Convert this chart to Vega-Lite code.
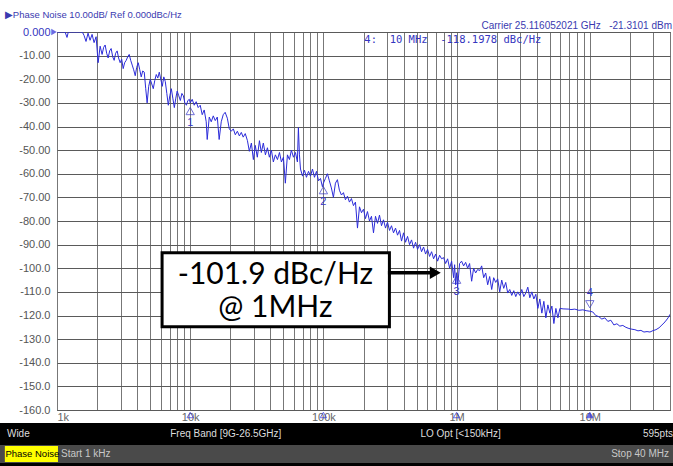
{
  "$schema": "https://vega.github.io/schema/vega-lite/v6.json",
  "width": 613,
  "height": 378,
  "autosize": "none",
  "padding": {"left": 57, "top": 32, "right": 3, "bottom": 56},
  "background": "white",
  "config": {"view": {"stroke": "#333333", "strokeWidth": 1}, "font": "Liberation Sans"},
  "data": {"values": [{}]},
  "datasets": {
    "trace": [
      {"freq":1000,"level":0},{"freq":1053,"level":0},{"freq":1109,"level":0},{"freq":1150,"level":0},{"freq":1189,"level":-2.3},{"freq":1215,"level":0},{"freq":1297,"level":0},{"freq":1366,"level":0},{"freq":1439,"level":0},{"freq":1516,"level":0},{"freq":1560,"level":-0.3},{"freq":1597,"level":-1.5},{"freq":1651,"level":-4},{"freq":1710,"level":-0.5},{"freq":1771,"level":-3.5},{"freq":1834,"level":-1},{"freq":1898,"level":-4.5},{"freq":1966,"level":-2},{"freq":2036,"level":-13},{"freq":2108,"level":-6},{"freq":2181,"level":-9.5},{"freq":2240,"level":-6.5},{"freq":2298,"level":-5.5},{"freq":2360,"level":-9},{"freq":2420,"level":-11},{"freq":2485,"level":-8},{"freq":2550,"level":-7},{"freq":2620,"level":-10.5},{"freq":2686,"level":-12},{"freq":2755,"level":-9},{"freq":2829,"level":-8},{"freq":2900,"level":-11},{"freq":2980,"level":-13},{"freq":3060,"level":-11.5},{"freq":3139,"level":-15.5},{"freq":3220,"level":-13},{"freq":3307,"level":-12},{"freq":3395,"level":-10.5},{"freq":3484,"level":-9.5},{"freq":3575,"level":-12},{"freq":3670,"level":-14},{"freq":3765,"level":-16},{"freq":3866,"level":-18.5},{"freq":3965,"level":-15},{"freq":4072,"level":-13},{"freq":4180,"level":-16},{"freq":4289,"level":-19},{"freq":4400,"level":-16.5},{"freq":4519,"level":-17},{"freq":4635,"level":-24},{"freq":4750,"level":-30},{"freq":4880,"level":-23},{"freq":5014,"level":-20},{"freq":5145,"level":-22},{"freq":5281,"level":-24},{"freq":5420,"level":-20.5},{"freq":5563,"level":-18},{"freq":5710,"level":-19.5},{"freq":5861,"level":-17},{"freq":6015,"level":-20},{"freq":6173,"level":-23},{"freq":6335,"level":-19},{"freq":6503,"level":-21},{"freq":6675,"level":-26},{"freq":6850,"level":-31},{"freq":7030,"level":-27},{"freq":7216,"level":-24},{"freq":7405,"level":-28},{"freq":7602,"level":-32},{"freq":7800,"level":-28},{"freq":7985,"level":-25},{"freq":8210,"level":-27},{"freq":8435,"level":-29},{"freq":8660,"level":-26},{"freq":8886,"level":-27},{"freq":9120,"level":-30},{"freq":9360,"level":-31},{"freq":9600,"level":-29},{"freq":9860,"level":-28.5},
      {"freq":10000,"level":-30},{"freq":10350,"level":-28.5},{"freq":10720,"level":-31},{"freq":11090,"level":-29.5},{"freq":11480,"level":-32},{"freq":11890,"level":-31},{"freq":12310,"level":-35},{"freq":12740,"level":-33},{"freq":13190,"level":-38},{"freq":13420,"level":-45.5},{"freq":13900,"level":-36},{"freq":14390,"level":-38},{"freq":14900,"level":-35.5},{"freq":15420,"level":-37.5},{"freq":15970,"level":-36},{"freq":16500,"level":-45.5},{"freq":17100,"level":-38},{"freq":17700,"level":-35},{"freq":18300,"level":-34},{"freq":19000,"level":-36.5},{"freq":19660,"level":-41},{"freq":20350,"level":-42},{"freq":21070,"level":-41},{"freq":21810,"level":-43.5},{"freq":22600,"level":-42},{"freq":23400,"level":-44},{"freq":24200,"level":-42.5},{"freq":25000,"level":-44.5},{"freq":25900,"level":-43},{"freq":26900,"level":-46},{"freq":27800,"level":-50.5},{"freq":28800,"level":-47},{"freq":29800,"level":-54},{"freq":30800,"level":-48},{"freq":31900,"level":-53},{"freq":33100,"level":-46},{"freq":34200,"level":-51},{"freq":35400,"level":-47},{"freq":36700,"level":-52},{"freq":38000,"level":-49},{"freq":39300,"level":-53},{"freq":40700,"level":-50},{"freq":42100,"level":-55},{"freq":43600,"level":-52},{"freq":45200,"level":-54},{"freq":46800,"level":-51},{"freq":48400,"level":-55},{"freq":50100,"level":-53},{"freq":51800,"level":-64},{"freq":53700,"level":-52},{"freq":55600,"level":-54},{"freq":57500,"level":-50},{"freq":59600,"level":-53},{"freq":61700,"level":-51},{"freq":63800,"level":-55},{"freq":64900,"level":-40.5},{"freq":66100,"level":-52},{"freq":67300,"level":-58},{"freq":69700,"level":-61},{"freq":72100,"level":-58.5},{"freq":74600,"level":-61.5},{"freq":77300,"level":-59},{"freq":80000,"level":-61},{"freq":82800,"level":-58},{"freq":85700,"level":-61.5},{"freq":88700,"level":-59},{"freq":91900,"level":-63},{"freq":95100,"level":-62},{"freq":98300,"level":-65.5},
      {"freq":100000,"level":-64},{"freq":103500,"level":-62},{"freq":107200,"level":-60},{"freq":110900,"level":-63},{"freq":114800,"level":-66},{"freq":118900,"level":-70},{"freq":123100,"level":-64},{"freq":127400,"level":-62.5},{"freq":131900,"level":-67},{"freq":136600,"level":-69},{"freq":141400,"level":-68},{"freq":146300,"level":-71},{"freq":151600,"level":-69.5},{"freq":156800,"level":-72},{"freq":162400,"level":-70.5},{"freq":168100,"level":-73.5},{"freq":174000,"level":-72},{"freq":180200,"level":-83},{"freq":186600,"level":-74},{"freq":193100,"level":-76.5},{"freq":199900,"level":-75},{"freq":207000,"level":-79},{"freq":214200,"level":-76},{"freq":221800,"level":-80},{"freq":229600,"level":-78},{"freq":237700,"level":-85},{"freq":246100,"level":-78},{"freq":254800,"level":-81},{"freq":263700,"level":-77.5},{"freq":273000,"level":-82},{"freq":282600,"level":-79.5},{"freq":292600,"level":-83},{"freq":302900,"level":-80.5},{"freq":313600,"level":-84},{"freq":324600,"level":-82},{"freq":336100,"level":-85},{"freq":347900,"level":-83},{"freq":360200,"level":-86},{"freq":372900,"level":-84},{"freq":386000,"level":-88.5},{"freq":399600,"level":-85},{"freq":413700,"level":-89},{"freq":428300,"level":-86.5},{"freq":443400,"level":-90},{"freq":459000,"level":-88},{"freq":475200,"level":-91.5},{"freq":491900,"level":-89},{"freq":509300,"level":-92},{"freq":527200,"level":-90},{"freq":545800,"level":-93},{"freq":565000,"level":-91},{"freq":584900,"level":-94},{"freq":605500,"level":-92},{"freq":626900,"level":-95},{"freq":649000,"level":-93},{"freq":671800,"level":-96},{"freq":695500,"level":-94},{"freq":720000,"level":-97},{"freq":745400,"level":-94.5},{"freq":771600,"level":-96},{"freq":798800,"level":-95.5},{"freq":827000,"level":-98},{"freq":856100,"level":-96},{"freq":886300,"level":-100},{"freq":917500,"level":-97},{"freq":949800,"level":-104},{"freq":966500,"level":-98.5},{"freq":983400,"level":-107},
      {"freq":1000000,"level":-101.9},{"freq":1018000,"level":-108},{"freq":1053000,"level":-98},{"freq":1090000,"level":-97},{"freq":1129000,"level":-99},{"freq":1169000,"level":-97.5},{"freq":1210000,"level":-100},{"freq":1252000,"level":-98},{"freq":1297000,"level":-105.5},{"freq":1342000,"level":-100},{"freq":1390000,"level":-102},{"freq":1439000,"level":-100.5},{"freq":1489000,"level":-101},{"freq":1542000,"level":-99},{"freq":1597000,"level":-104},{"freq":1653000,"level":-102},{"freq":1711000,"level":-107},{"freq":1771000,"level":-103.5},{"freq":1834000,"level":-109},{"freq":1898000,"level":-104},{"freq":1966000,"level":-106},{"freq":2035000,"level":-104.5},{"freq":2107000,"level":-110},{"freq":2181000,"level":-105},{"freq":2258000,"level":-108.5},{"freq":2338000,"level":-106},{"freq":2420000,"level":-110.5},{"freq":2506000,"level":-109},{"freq":2594000,"level":-111.5},{"freq":2686000,"level":-109.5},{"freq":2780000,"level":-112},{"freq":2879000,"level":-110},{"freq":2980000,"level":-111.5},{"freq":3085000,"level":-109},{"freq":3194000,"level":-112},{"freq":3307000,"level":-110.5},{"freq":3424000,"level":-108},{"freq":3545000,"level":-112.5},{"freq":3670000,"level":-110},{"freq":3800000,"level":-113},{"freq":3934000,"level":-111},{"freq":4072000,"level":-117},{"freq":4216000,"level":-113},{"freq":4365000,"level":-119},{"freq":4519000,"level":-114},{"freq":4679000,"level":-121},{"freq":4844000,"level":-115.5},{"freq":5014000,"level":-119},{"freq":5191000,"level":-116},{"freq":5374000,"level":-123.4},{"freq":5563000,"level":-117},{"freq":5760000,"level":-121},{"freq":5963000,"level":-117},{"freq":6300000,"level":-117.2},{"freq":6970000,"level":-117.3},{"freq":7216000,"level":-117.5},{"freq":7720000,"level":-117.3},{"freq":8270000,"level":-117.8},{"freq":8870000,"level":-117.6},{"freq":9500000,"level":-118},{"freq":10000000,"level":-118.2},
      {"freq":10530000,"level":-118.5},{"freq":11090000,"level":-120},{"freq":11690000,"level":-120.5},{"freq":12310000,"level":-121.5},{"freq":12970000,"level":-121},{"freq":13660000,"level":-122.5},{"freq":14390000,"level":-122},{"freq":15160000,"level":-124},{"freq":15970000,"level":-123.5},{"freq":16800000,"level":-124.5},{"freq":17700000,"level":-124.2},{"freq":18660000,"level":-125},{"freq":19660000,"level":-125.5},{"freq":20700000,"level":-125.8},{"freq":21800000,"level":-126},{"freq":23000000,"level":-126.5},{"freq":24200000,"level":-126.3},{"freq":25500000,"level":-127},{"freq":26900000,"level":-126.8},{"freq":28300000,"level":-127},{"freq":29800000,"level":-126.4},{"freq":31400000,"level":-126},{"freq":33100000,"level":-125.2},{"freq":34800000,"level":-124},{"freq":36700000,"level":-122.7},{"freq":38700000,"level":-121},{"freq":40000000,"level":-119.5}
    ],
    "markers": [
      {"id":"1","freq":10000,"level":-30.5},
      {"id":"2","freq":100000,"level":-64},
      {"id":"3","freq":1000000,"level":-101.9},
      {"id":"4","freq":10000000,"level":-118.2}
    ]
  },
  "layer": [
    {
      "data": {"name": "trace"},
      "mark": {"type": "line", "color": "#2b2bd9", "strokeWidth": 1, "clip": true},
      "encoding": {
        "x": {
          "field": "freq", "type": "quantitative",
          "scale": {"type": "log", "domain": [1000, 40000000], "nice": false},
          "axis": {
            "values": [1000,2000,3000,4000,5000,6000,7000,8000,9000,10000,20000,30000,40000,50000,60000,70000,80000,90000,100000,200000,300000,400000,500000,600000,700000,800000,900000,1000000,2000000,3000000,4000000,5000000,6000000,7000000,8000000,9000000,10000000,20000000,30000000,40000000],
            "tickCount": 60,
            "grid": true, "gridColor": "#777777", "gridWidth": 1, "ticks": false, "domain": false, "title": null,
            "labelExpr": "datum.value == 1000 ? '1k' : datum.value == 10000 ? '10k' : datum.value == 100000 ? '100k' : datum.value == 1000000 ? '1M' : datum.value == 10000000 ? '10M' : ''",
            "labelFlush": true, "labelOverlap": false, "labelColor": "#666666", "labelFont": "Liberation Sans", "labelFontSize": 11, "labelPadding": 1
          }
        },
        "y": {
          "field": "level", "type": "quantitative",
          "scale": {"domain": [-160, 0], "nice": false},
          "axis": {
            "values": [-160,-150,-140,-130,-120,-110,-100,-90,-80,-70,-60,-50,-40,-30,-20,-10,0],
            "tickCount": 30,
            "grid": true, "gridColor": "#5a5a5a", "gridWidth": 1, "ticks": false, "domain": false, "title": null,
            "labelOverlap": false,
            "labelExpr": "datum.value == 0 ? '0.000' : (datum.value > -100 ? '-' + format(-datum.value, '.2f') : '-' + format(-datum.value, '.1f'))",
            "labelColor": {"condition": {"test": "datum.value == 0", "value": "#3535c0"}, "value": "#555555"},
            "labelFont": "Liberation Sans", "labelFontSize": 11, "labelPadding": 7
          }
        }
      }
    },
    {
      "data": {"name": "markers"},
      "transform": [{"filter": "datum.id != '4'"}],
      "mark": {"type": "point", "shape": "triangle-up", "size": 70, "filled": false, "color": "#3535c8", "strokeWidth": 1, "yOffset": 7},
      "encoding": {"x": {"field": "freq", "type": "quantitative"}, "y": {"field": "level", "type": "quantitative"}}
    },
    {
      "data": {"name": "markers"},
      "transform": [{"filter": "datum.id != '4'"}],
      "mark": {"type": "text", "color": "#3535c8", "fontSize": 11, "dy": 19, "font": "Liberation Sans"},
      "encoding": {"x": {"field": "freq", "type": "quantitative"}, "y": {"field": "level", "type": "quantitative"}, "text": {"field": "id"}}
    },
    {
      "data": {"name": "markers"},
      "transform": [{"filter": "datum.id == '4'"}],
      "mark": {"type": "point", "shape": "triangle-down", "size": 70, "filled": false, "color": "#3535c8", "strokeWidth": 1, "yOffset": -7},
      "encoding": {"x": {"field": "freq", "type": "quantitative"}, "y": {"field": "level", "type": "quantitative"}}
    },
    {
      "data": {"name": "markers"},
      "transform": [{"filter": "datum.id == '4'"}],
      "mark": {"type": "text", "color": "#3535c8", "fontSize": 11, "dy": -18, "font": "Liberation Sans"},
      "encoding": {"x": {"field": "freq", "type": "quantitative"}, "y": {"field": "level", "type": "quantitative"}, "text": {"field": "id"}}
    },
    {
      "data": {"name": "markers"},
      "mark": {"type": "point", "shape": "triangle-up", "size": 40, "filled": true, "stroke": "#2b2bd9", "strokeWidth": 1, "yOffset": 5},
      "encoding": {
        "x": {"field": "freq", "type": "quantitative"},
        "y": {"datum": -160},
        "fill": {"condition": {"test": "datum.id == '4'", "value": "#2b2bd9"}, "value": "rgba(255,255,255,0)"}
      }
    },
    {
      "mark": {"type": "point", "shape": "triangle-right", "size": 40, "filled": true, "color": "#2b2bd9", "xOffset": -3},
      "encoding": {"x": {"datum": 1000}, "y": {"datum": 0}}
    },
    {
      "mark": {"type": "rect", "fill": "white", "stroke": "black", "strokeWidth": 3},
      "encoding": {"x": {"datum": 6150}, "x2": {"datum": 313000}, "y": {"datum": -93.4}, "y2": {"datum": -124.8}}
    },
    {
      "mark": {"type": "text", "text": "-101.9 dBc/Hz", "font": "Lato", "fontSize": 30, "color": "black", "align": "center", "baseline": "middle"},
      "encoding": {"x": {"datum": 43600}, "y": {"datum": -103}}
    },
    {
      "mark": {"type": "text", "text": "@ 1MHz", "font": "Lato", "fontSize": 30, "color": "black", "align": "center", "baseline": "middle"},
      "encoding": {"x": {"datum": 43600}, "y": {"datum": -117}}
    },
    {
      "mark": {"type": "rule", "color": "black", "strokeWidth": 3.5},
      "encoding": {"x": {"datum": 305000}, "x2": {"datum": 690000}, "y": {"datum": -101.9}}
    },
    {
      "mark": {"type": "point", "shape": "triangle-right", "size": 160, "filled": true, "color": "black", "opacity": 1},
      "encoding": {"x": {"datum": 692000}, "y": {"datum": -101.9}}
    },
    {
      "mark": {"type": "text", "text": "4:\u00a0\u00a010\u00a0MHz\u00a0\u00a0-118.1978\u00a0dBc/Hz", "font": "DejaVu Sans Mono", "fontSize": 10.5, "color": "#3535c0", "align": "left", "baseline": "middle"},
      "encoding": {"x": {"datum": 203000}, "y": {"datum": -3.4}}
    },
    {
      "mark": {"type": "text", "text": "\u25b6Phase Noise 10.00dB/ Ref 0.000dBc/Hz", "font": "Liberation Sans", "fontSize": 9.5, "color": "#3a3ab0", "align": "left", "baseline": "middle"},
      "encoding": {"x": {"datum": 406}, "y": {"datum": 7.2}}
    },
    {
      "mark": {"type": "text", "text": "Carrier 25.116052021 GHz\u00a0\u00a0\u00a0-21.3101 dBm", "font": "Liberation Sans", "fontSize": 10, "color": "#3a3ab0", "align": "right", "baseline": "middle"},
      "encoding": {"x": {"datum": 41400000}, "y": {"datum": 2.5}}
    },
    {
      "mark": {"type": "rect", "fill": "black"},
      "encoding": {"x": {"datum": 350}, "x2": {"datum": 45000000}, "y": {"datum": -165.5}, "y2": {"datum": -174.8}}
    },
    {
      "mark": {"type": "rect", "fill": "#4a4a4a"},
      "encoding": {"x": {"datum": 350}, "x2": {"datum": 45000000}, "y": {"datum": -174.8}, "y2": {"datum": -182.4}}
    },
    {
      "mark": {"type": "rect", "fill": "black"},
      "encoding": {"x": {"datum": 350}, "x2": {"datum": 45000000}, "y": {"datum": -182.4}, "y2": {"datum": -186}}
    },
    {
      "mark": {"type": "rect", "fill": "#ffff00"},
      "encoding": {"x": {"datum": 406}, "x2": {"datum": 1017}, "y": {"datum": -175.2}, "y2": {"datum": -182.0}}
    },
    {
      "mark": {"type": "text", "text": "Wide", "font": "Liberation Sans", "fontSize": 10, "color": "#dddddd", "align": "left", "baseline": "middle"},
      "encoding": {"x": {"datum": 421}, "y": {"datum": -170.2}}
    },
    {
      "mark": {"type": "text", "text": "Freq Band [9G-26.5GHz]", "font": "Liberation Sans", "fontSize": 10, "color": "#dddddd", "align": "center", "baseline": "middle"},
      "encoding": {"x": {"datum": 18500}, "y": {"datum": -170.2}}
    },
    {
      "mark": {"type": "text", "text": "LO Opt [<150kHz]", "font": "Liberation Sans", "fontSize": 10, "color": "#dddddd", "align": "center", "baseline": "middle"},
      "encoding": {"x": {"datum": 1072000}, "y": {"datum": -170.2}}
    },
    {
      "mark": {"type": "text", "text": "595pts", "font": "Liberation Sans", "fontSize": 10, "color": "#dddddd", "align": "right", "baseline": "middle"},
      "encoding": {"x": {"datum": 42100000}, "y": {"datum": -170.2}}
    },
    {
      "mark": {"type": "text", "text": "Phase Noise", "font": "Liberation Sans", "fontSize": 9.5, "color": "black", "align": "left", "baseline": "middle"},
      "encoding": {"x": {"datum": 410}, "y": {"datum": -178.6}}
    },
    {
      "mark": {"type": "text", "text": "Start 1 kHz", "font": "Liberation Sans", "fontSize": 10, "color": "#c8c8c8", "align": "left", "baseline": "middle"},
      "encoding": {"x": {"datum": 1072}, "y": {"datum": -178.6}}
    },
    {
      "mark": {"type": "text", "text": "Stop 40 MHz", "font": "Liberation Sans", "fontSize": 10, "color": "#c8c8c8", "align": "right", "baseline": "middle"},
      "encoding": {"x": {"datum": 39300000}, "y": {"datum": -178.6}}
    }
  ]
}
